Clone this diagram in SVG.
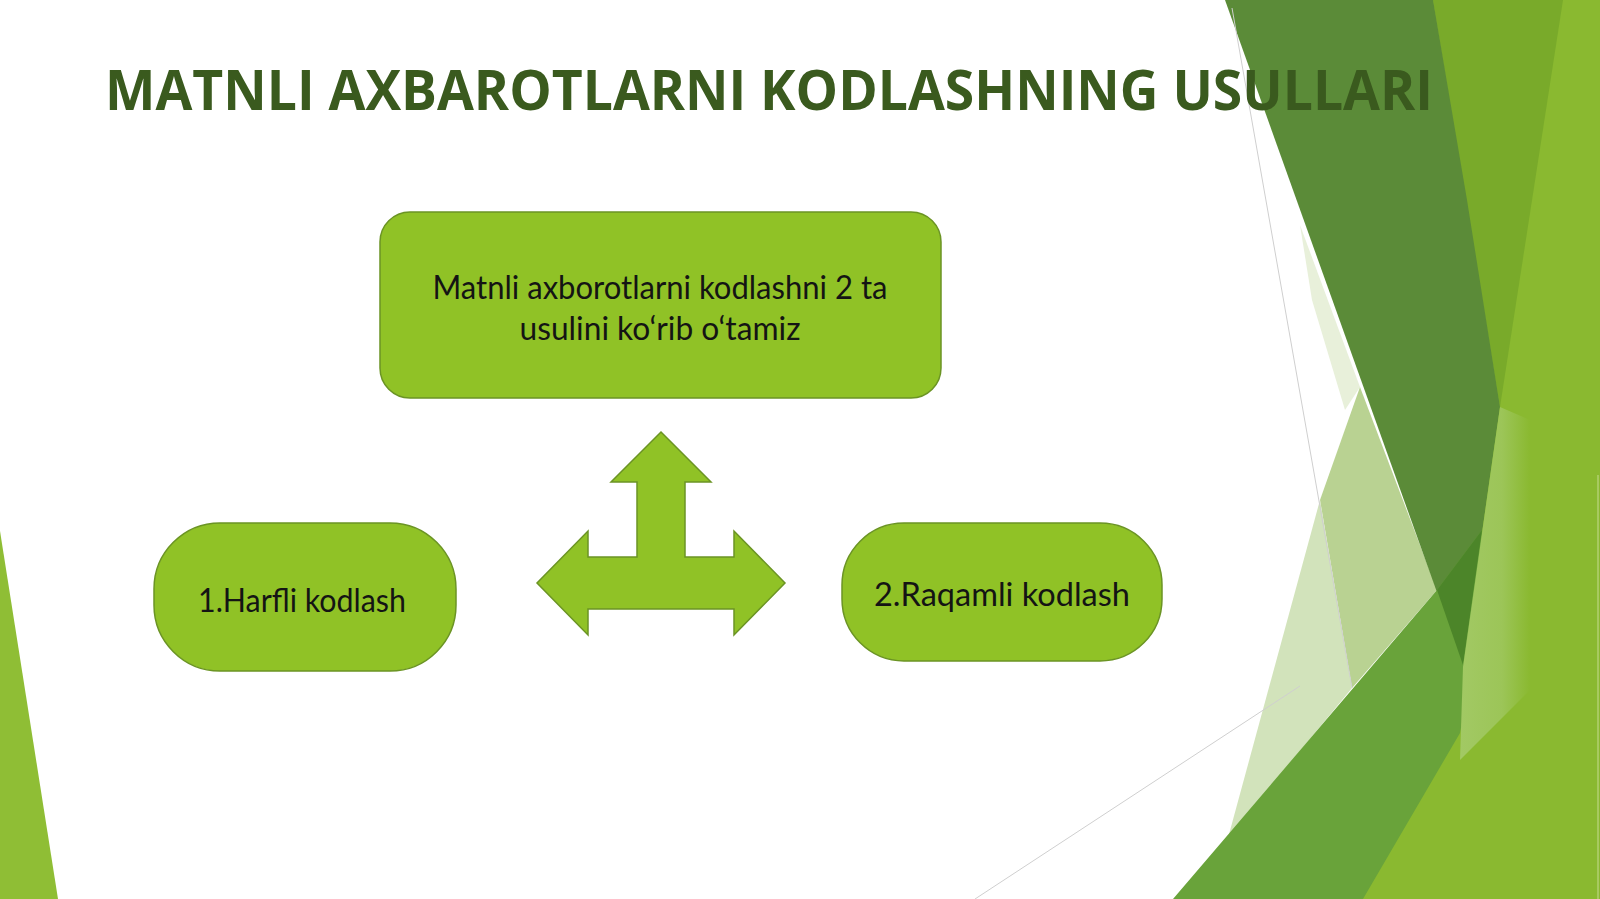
<svg xmlns="http://www.w3.org/2000/svg" width="1600" height="899" viewBox="0 0 1600 899">
  <style>
    .node { fill: #90c226; stroke: #6b9424; stroke-width: 1.5; }
    .label { font-family: Lato, "Open Sans", "Liberation Sans", sans-serif; font-size: 32px; fill: #141414; text-anchor: middle; }
    .title { font-family: "Open Sans", "Noto Sans", "Liberation Sans", sans-serif; font-weight: bold; font-size: 56px; fill: #3a5a1e; }
    .hair { stroke: #cfcfcf; stroke-width: 1; fill: none; }
  </style>
  <defs>
    <linearGradient id="patch" x1="0" y1="0" x2="1" y2="0">
      <stop offset="0" stop-color="#a2c964"/>
      <stop offset="0.6" stop-color="#9cc558"/>
      <stop offset="1" stop-color="#8ab930"/>
    </linearGradient>
  </defs>
  <rect width="1600" height="899" fill="#ffffff"/>
  <g id="background">
    <polygon points="0,531 58,899 0,899" fill="#8fbe35"/>
    <polygon points="1400,0 1600,0 1600,899 1350,899 1440,600" fill="#8ab930"/>
    <polygon points="1433,0 1563,0 1500,407" fill="#79aa2a"/>
    <polygon points="1300,225 1360,387 1345,410 1312,300" fill="#e8f0da"/>
    <polygon points="1360,387 1437,590 1352,688 1320,500" fill="#b9d292"/>
    <polygon points="1320,500 1352,688 1228,838" fill="#d2e3bb"/>
    <polygon points="1225,0 1433,0 1467,200 1500,407 1463,665" fill="#5b8b38"/>
    <polygon points="1482,530 1475,650 1460,733 1363,899 1173,899 1437,590" fill="#69a33a"/>
    <polygon points="1437,590 1482,530 1463,665" fill="#4c8529"/>
    <polygon points="1500,407 1530,420 1530,690 1460,760 1463,667" fill="url(#patch)"/>
    <line class="hair" x1="1232" y1="8" x2="1352" y2="688"/>
    <line class="hair" x1="1300" y1="686" x2="975" y2="899" stroke="#e6e6e6"/>
    <line x1="1598" y1="475" x2="1598" y2="899" stroke="#b2d070" stroke-width="1.5"/>
  </g>
  <text class="title" x="105" y="110" textLength="1328" lengthAdjust="spacingAndGlyphs">MATNLI AXBAROTLARNI KODLASHNING USULLARI</text>
  <g id="connectors">
    <polygon class="node" points="661,432 711,482 685,482 685,557 734,557 734,531 785,583 734,635 734,609 588,609 588,635 537,583 588,531 588,557 637,557 637,482 611,482"/>
  </g>
  <g id="node-top">
    <rect class="node" x="380" y="212" width="561" height="186" rx="30" ry="30"/>
    <text class="label" x="660" y="299" textLength="455" lengthAdjust="spacingAndGlyphs">Matnli axborotlarni kodlashni 2 ta</text>
    <text class="label" x="660" y="340" textLength="281" lengthAdjust="spacingAndGlyphs">usulini ko‘rib o‘tamiz</text>
  </g>
  <g id="node-left">
    <rect class="node" x="154" y="523" width="302" height="148" rx="66" ry="66"/>
    <text class="label" x="302" y="612" textLength="208" lengthAdjust="spacingAndGlyphs">1.Harfli kodlash</text>
  </g>
  <g id="node-right">
    <rect class="node" x="842" y="523" width="320" height="138" rx="62" ry="62"/>
    <text class="label" x="1002" y="606" textLength="256" lengthAdjust="spacingAndGlyphs">2.Raqamli kodlash</text>
  </g>
</svg>
